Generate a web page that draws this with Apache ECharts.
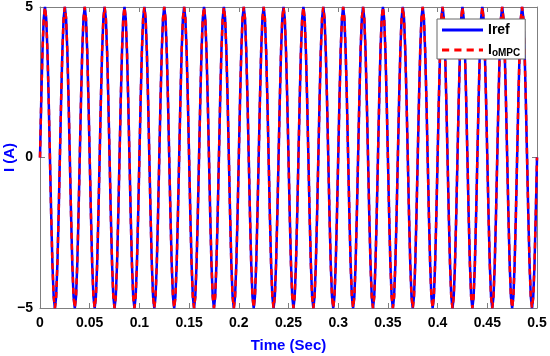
<!DOCTYPE html>
<html>
<head>
<meta charset="utf-8">
<script src="https://cdn.jsdelivr.net/npm/echarts@6/dist/echarts.min.js"></script>
<style>html,body{margin:0;padding:0;background:#fff}#c{width:550px;height:356px}</style>
</head>
<body>
<div id="c"></div>
<script>
// Sampling step of the traces (seconds between samples)
const sampleStep = 0.00125;
// Reference current Iref (A), 16 samples per 0.02 s cycle
const iRef = [
0,1.91,3.54,4.62,5,4.62,3.54,1.91,0,-1.91,-3.54,-4.62,-5,-4.62,-3.54,-1.91,
0,1.91,3.54,4.62,5,4.62,3.54,1.91,0,-1.91,-3.54,-4.62,-5,-4.62,-3.54,-1.91,
0,1.91,3.54,4.62,5,4.62,3.54,1.91,0,-1.91,-3.54,-4.62,-5,-4.62,-3.54,-1.91,
0,1.91,3.54,4.62,5,4.62,3.54,1.91,0,-1.91,-3.54,-4.62,-5,-4.62,-3.54,-1.91,
0,1.91,3.54,4.62,5,4.62,3.54,1.91,0,-1.91,-3.54,-4.62,-5,-4.62,-3.54,-1.91,
0,1.91,3.54,4.62,5,4.62,3.54,1.91,0,-1.91,-3.54,-4.62,-5,-4.62,-3.54,-1.91,
0,1.91,3.54,4.62,5,4.62,3.54,1.91,0,-1.91,-3.54,-4.62,-5,-4.62,-3.54,-1.91,
0,1.91,3.54,4.62,5,4.62,3.54,1.91,0,-1.91,-3.54,-4.62,-5,-4.62,-3.54,-1.91,
0,1.91,3.54,4.62,5,4.62,3.54,1.91,0,-1.91,-3.54,-4.62,-5,-4.62,-3.54,-1.91,
0,1.91,3.54,4.62,5,4.62,3.54,1.91,0,-1.91,-3.54,-4.62,-5,-4.62,-3.54,-1.91,
0,1.91,3.54,4.62,5,4.62,3.54,1.91,0,-1.91,-3.54,-4.62,-5,-4.62,-3.54,-1.91,
0,1.91,3.54,4.62,5,4.62,3.54,1.91,0,-1.91,-3.54,-4.62,-5,-4.62,-3.54,-1.91,
0,1.91,3.54,4.62,5,4.62,3.54,1.91,0,-1.91,-3.54,-4.62,-5,-4.62,-3.54,-1.91,
0,1.91,3.54,4.62,5,4.62,3.54,1.91,0,-1.91,-3.54,-4.62,-5,-4.62,-3.54,-1.91,
0,1.91,3.54,4.62,5,4.62,3.54,1.91,0,-1.91,-3.54,-4.62,-5,-4.62,-3.54,-1.91,
0,1.91,3.54,4.62,5,4.62,3.54,1.91,0,-1.91,-3.54,-4.62,-5,-4.62,-3.54,-1.91,
0,1.91,3.54,4.62,5,4.62,3.54,1.91,0,-1.91,-3.54,-4.62,-5,-4.62,-3.54,-1.91,
0,1.91,3.54,4.62,5,4.62,3.54,1.91,0,-1.91,-3.54,-4.62,-5,-4.62,-3.54,-1.91,
0,1.91,3.54,4.62,5,4.62,3.54,1.91,0,-1.91,-3.54,-4.62,-5,-4.62,-3.54,-1.91,
0,1.91,3.54,4.62,5,4.62,3.54,1.91,0,-1.91,-3.54,-4.62,-5,-4.62,-3.54,-1.91,
0,1.91,3.54,4.62,5,4.62,3.54,1.91,0,-1.91,-3.54,-4.62,-5,-4.62,-3.54,-1.91,
0,1.91,3.54,4.62,5,4.62,3.54,1.91,0,-1.91,-3.54,-4.62,-5,-4.62,-3.54,-1.91,
0,1.91,3.54,4.62,5,4.62,3.54,1.91,0,-1.91,-3.54,-4.62,-5,-4.62,-3.54,-1.91,
0,1.91,3.54,4.62,5,4.62,3.54,1.91,0,-1.91,-3.54,-4.62,-5,-4.62,-3.54,-1.91,
0,1.91,3.54,4.62,5,4.62,3.54,1.91,0,-1.91,-3.54,-4.62,-5,-4.62,-3.54,-1.91,
0
];
// Measured current IoMPC (A): overlaps the reference everywhere in the picture
const iOMPC = iRef.slice();
// Tick labels
const xTickLabels = ['0','0.05','0.1','0.15','0.2','0.25','0.3','0.35','0.4','0.45','0.5'];
const yTickLabels = ['\u22125','0','5'];

const toPairs = arr => arr.map((v, i) => [+(i * sampleStep).toFixed(6), v]);

const font = 'Liberation Sans, Arial, sans-serif';
const axisGray = '#7f7f7f';
const labelStyle = {color: '#000', fontWeight: 'bold', fontSize: 14, fontFamily: font};

const chart = echarts.init(document.getElementById('c'), null, {renderer: 'canvas'});
chart.setOption({
  animation: false,
  backgroundColor: '#fff',
  grid: {left: 40, right: 13, top: 7, bottom: 48, containLabel: false, outerBoundsMode: 'none'},
  legend: {
    orient: 'vertical',
    left: 437, top: 19,
    padding: [4, 5, 1, 5],
    itemGap: 5,
    itemWidth: 41, itemHeight: 14,
    backgroundColor: '#fff',
    borderColor: '#666', borderWidth: 1,
    textStyle: {
      color: '#000', fontWeight: 'bold', fontSize: 14, fontFamily: font,
      rich: {
        b: {color: '#000', fontWeight: 'bold', fontSize: 14, lineHeight: 16, fontFamily: font},
        sub: {color: '#000', fontWeight: 'bold', fontSize: 10, lineHeight: 12, fontFamily: font, padding: [6, 0, 0, 0]}
      }
    },
    formatter: name => name === 'IoMPC' ? '{b|I}{sub|oMPC}' : '{b|Iref}',
    data: [
      {name: 'Iref', icon: 'path://M0,6 L40,6 L40,9 L0,9 Z', itemStyle: {color: '#0000ff'}},
      {name: 'IoMPC', icon: 'path://M0,6 L7,6 L7,9 L0,9 Z M12,6 L19,6 L19,9 L12,9 Z M24,6 L31,6 L31,9 L24,9 Z M36,6 L40,6 L40,9 L36,9 Z', itemStyle: {color: '#ff0000'}}
    ]
  },
  xAxis: [{
    type: 'value', min: 0, max: 0.5, interval: 0.05,
    name: 'Time (Sec)', nameLocation: 'middle', nameGap: 30,
    nameTextStyle: {color: '#0000ff', fontWeight: 'bold', fontSize: 15, fontFamily: font},
    axisLine: {show: true, onZero: false, lineStyle: {color: axisGray, width: 1}},
    axisTick: {show: true, inside: true, length: 5, lineStyle: {color: axisGray}},
    axisLabel: Object.assign({margin: 8, formatter: v => xTickLabels[Math.round(v / 0.05)]}, labelStyle),
    splitLine: {show: false}
  }, {
    type: 'value', min: 0, max: 0.5, interval: 0.05, position: 'top',
    axisLine: {show: true, onZero: false, lineStyle: {color: axisGray, width: 1}},
    axisTick: {show: true, inside: true, length: 5, lineStyle: {color: axisGray}},
    axisLabel: {show: false}, splitLine: {show: false}
  }],
  yAxis: [{
    type: 'value', min: -5, max: 5, interval: 5,
    name: 'I (A)', nameLocation: 'middle', nameGap: 23, nameMoveOverlap: false,
    nameTextStyle: {color: '#0000ff', fontWeight: 'bold', fontSize: 15, fontFamily: font},
    axisLine: {show: true, onZero: false, lineStyle: {color: axisGray, width: 1}},
    axisTick: {show: true, inside: true, length: 5, lineStyle: {color: axisGray}},
    axisLabel: Object.assign({margin: 7, formatter: v => yTickLabels[Math.round(v / 5) + 1]}, labelStyle),
    splitLine: {show: false}
  }, {
    type: 'value', min: -5, max: 5, interval: 5, position: 'right',
    axisLine: {show: true, onZero: false, lineStyle: {color: axisGray, width: 1}},
    axisTick: {show: true, inside: true, length: 5, lineStyle: {color: axisGray}},
    axisLabel: {show: false}, splitLine: {show: false}
  }],
  series: [{
    name: 'Iref', type: 'line', data: toPairs(iRef),
    showSymbol: false, symbol: 'none',
    lineStyle: {color: '#0000ff', width: 2.5},
    itemStyle: {color: '#0000ff'}
  }, {
    name: 'IoMPC', type: 'line', data: toPairs(iOMPC),
    showSymbol: false, symbol: 'none',
    lineStyle: {color: '#ff0000', width: 2.5, type: [6, 5]},
    itemStyle: {color: '#ff0000'}
  }]
});
</script>
</body>
</html>
